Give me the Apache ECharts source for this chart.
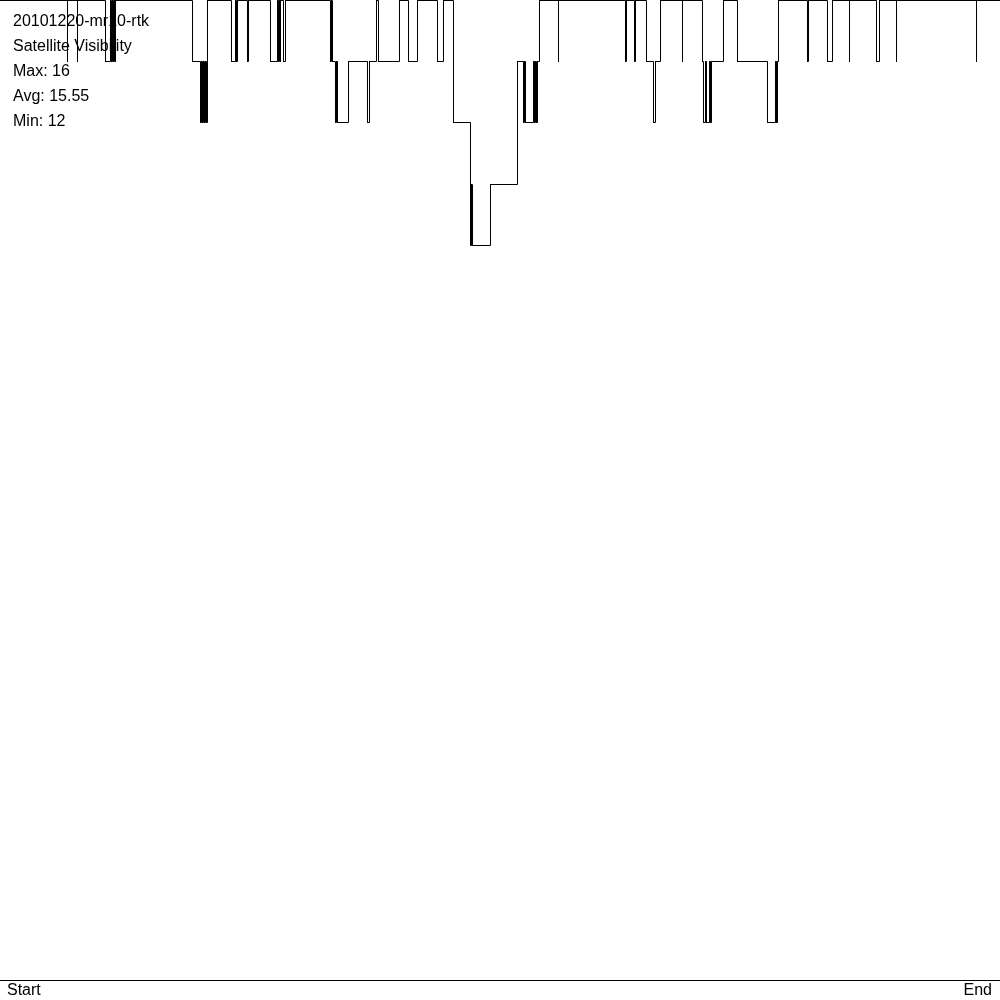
<!DOCTYPE html>
<html>
<head>
<meta charset="utf-8">
<script src="https://cdn.jsdelivr.net/npm/echarts@6/dist/echarts.min.js"></script>
<style>html,body{margin:0;padding:0;background:#fff}#c{width:1000px;height:1000px}</style>
</head>
<body>
<div id="c"></div>
<script>
// Info lines shown top-left
var infoLines = ['20101220-mr10-rtk', 'Satellite Visibility', 'Max: 16', 'Avg: 15.55', 'Min: 12'];
// x-axis tick labels (first / last sample)
var tickLabels = ['Start', 'End'];
// sample positions (0..1000, start..end) at which the visible-satellite count changes
var changeAt = [
  0, 67, 67.5, 77, 77.5,
  105, 110, 111, 112, 113, 114, 115, 115.5,
  192, 200, 201, 202, 203, 204, 205, 206, 207,
  231, 235, 236, 237, 247, 248,
  270, 277, 278, 279, 280, 280.5, 283, 285,
  330, 331, 332, 335, 336, 337, 348, 367, 369, 376, 378,
  399, 408, 417, 437, 443, 453, 453.5,
  470, 471, 472, 490, 517,
  523, 524, 525, 533, 534, 535, 536, 537, 539,
  558, 558.6, 625, 626, 634, 635,
  646, 653, 655, 660, 682, 682.4,
  702, 703, 705, 706, 709, 710, 711, 723, 737,
  767, 775, 776, 777, 778,
  807, 808, 827, 832, 849, 849.4, 876, 879, 896, 896.4, 976, 976.4,
  1000
];
// satellite count from that position on
var satCount = [
  16, 15, 16, 15, 16,
  15, 16, 15, 16, 15, 16, 15, 16,
  15, 14, 15, 14, 15, 14, 15, 14, 16,
  15, 16, 15, 16, 15, 16,
  15, 16, 15, 16, 15, 16, 15, 16,
  15, 16, 15, 14, 15, 14, 15, 14, 15, 16, 15,
  16, 15, 16, 15, 16, 15, 14,
  12, 13, 12, 13, 15,
  14, 15, 14, 15, 14, 15, 14, 15, 16,
  15, 16, 15, 16, 15, 16,
  15, 14, 15, 16, 15, 16,
  15, 14, 15, 14, 15, 14, 15, 16, 15,
  14, 15, 14, 15, 16,
  15, 16, 15, 16, 15, 16, 15, 16, 15, 16, 15, 16,
  16
];

// step segments: [start, end, count held, next count]
var segments = [];
for (var i = 0; i < changeAt.length - 1; i++) {
  segments.push([changeAt[i], changeAt[i + 1], satCount[i], satCount[i + 1]]);
}
var FONT = '"Liberation Sans", Arial, sans-serif';

function snapX(v) { return Math.floor(v) + 0.5; }
function snapY(v) { return Math.round(v - 0.01) + 0.5; }

function renderStep(params, api) {
  var a = api.coord([api.value(0), api.value(2)]);
  var b = api.coord([api.value(1), api.value(2)]);
  var c = api.coord([api.value(1), api.value(3)]);
  var x0 = snapX(a[0]), x1 = snapX(b[0]);
  var yh = snapY(a[1]), yv = snapY(c[1]);
  return {
    type: 'polyline',
    shape: {points: [[x0, yh], [x1, yh], [x1, yv]]},
    style: {stroke: '#000', lineWidth: 1, fill: null, lineJoin: 'miter', lineCap: 'square'},
    silent: true
  };
}

var chart = echarts.init(document.getElementById('c'), null, {renderer: 'canvas'});
chart.setOption({
  animation: false,
  backgroundColor: '#ffffff',
  title: {
    text: infoLines.join('\n'),
    left: 13,
    top: 9,
    padding: 0,
    z: 1,
    textStyle: {color: '#000', fontSize: 16, fontWeight: 'normal', fontFamily: FONT, lineHeight: 25}
  },
  grid: {left: 0, right: 0, top: 0, bottom: 20, containLabel: false},
  xAxis: {
    type: 'value',
    min: 0,
    max: 1000,
    interval: 1000,
    splitLine: {show: false},
    axisTick: {show: false},
    axisLine: {show: true, onZero: false, lineStyle: {color: '#000', width: 1}},
    axisLabel: {
      show: true,
      margin: 3,
      color: '#000',
      fontSize: 16,
      fontFamily: FONT,
      alignMinLabel: 'left',
      alignMaxLabel: 'right',
      padding: [0, 8, 0, 7],
      formatter: function (v) { return v === 0 ? tickLabels[0] : tickLabels[1]; }
    }
  },
  yAxis: {
    type: 'value',
    min: 0,
    max: 16,
    show: false,
    splitLine: {show: false}
  },
  series: [{
    type: 'custom',
    data: segments,
    encode: {x: [0, 1], y: [2, 3]},
    renderItem: renderStep,
    clip: false,
    z: 10
  }]
});
</script>
</body>
</html>
